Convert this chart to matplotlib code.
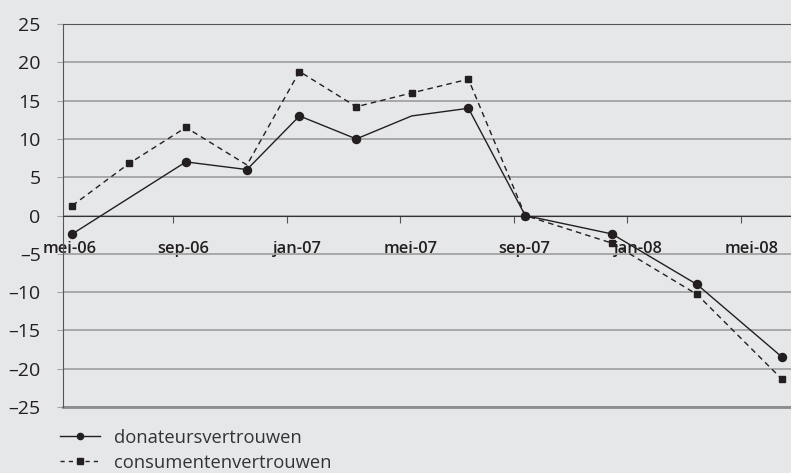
import matplotlib
matplotlib.use("Agg")
import matplotlib.pyplot as plt
from matplotlib.lines import Line2D

# months since 1 May 2006 (mid-month measurement points)
months = [0.45, 2.45, 4.45, 6.6, 8.45, 10.45, 12.4, 14.4, 16.4, 19.45, 22.45, 25.45]
donateurs = [-2.4, None, 7.0, 6.0, 13.0, 10.0, 13.0, 14.0, 0.0, -2.4, -9.0, -18.5]
consumenten = [1.3, 6.8, 11.5, 6.6, 18.8, 14.2, 16.0, 17.8, 0.0, -3.6, -10.3, -21.4]
tick_labels = ["mei-06", "sep-06", "jan-07", "mei-07", "sep-07", "jan-08", "mei-08"]
tick_months = [0, 4, 8, 12, 16, 20, 24]
y_ticks = [-25, -20, -15, -10, -5, 0, 5, 10, 15, 20, 25]

BG = "#e6e7e9"
INK = "#231f20"
plt.rcParams['font.family'] = ['Open Sans', 'DejaVu Sans']

fig = plt.figure(figsize=(7.91, 4.73), dpi=100, facecolor=BG)
ax = fig.add_axes([0.0796, 0.1395, 0.9204, 0.8097], facecolor=BG)

# donateurs: the series has no July point, skip it
d_x = [m for m, v in zip(months, donateurs) if v is not None]
d_y = [v for v in donateurs if v is not None]
ax.plot(d_x, d_y, color=INK, lw=1.0, marker="o", ms=5.8,
        markevery=[0, 1, 2, 3, 4, 6, 7, 8, 9, 10], zorder=4)
ax.plot(months, consumenten, color=INK, lw=1.0, ls=(0, (4, 3)), marker="s", ms=4.8,
        markevery=[0, 1, 2, 4, 5, 6, 7, 8, 9, 10, 11], zorder=3)

ax.set_xlim(0.12, 25.76)
ax.set_ylim(-25, 25)
ax.set_yticks(y_ticks)
ax.set_yticklabels([str(v).replace("-", "\u2013") for v in y_ticks])
ax.yaxis.grid(True, color="#a3a3a3", lw=1.3)
ax.set_axisbelow(True)
ax.tick_params(axis="y", length=4, color="#a3a3a3", labelsize=14, labelcolor=INK, pad=12)

# x-axis sits at zero
ax.spines["bottom"].set_position(("data", 0))
ax.spines["bottom"].set_color("#333333")
ax.spines["right"].set_visible(False)
ax.spines["top"].set_color("#555555")
ax.spines["left"].set_color("#555555")
ax.axhline(-25, color="#8c8c8c", lw=2.0, clip_on=False, zorder=2)

ax.set_xticks(tick_months[1:])
ax.set_xticklabels([])
ax.tick_params(axis="x", which="major", length=5, color="#555555", direction="out")
ax.set_xticks([m + 0.37 for m in tick_months], minor=True)
ax.set_xticklabels(tick_labels, minor=True, fontsize=11.8, fontweight="semibold", color=INK)
ax.tick_params(axis="x", which="minor", length=0, pad=18)

handles = [Line2D([], [], color=INK, lw=1.0, marker="o", ms=4.5),
           Line2D([], [], color=INK, lw=1.0, ls=(0, (3, 3)), marker="s", ms=5)]
fig.legend(handles, ["donateursvertrouwen", "consumentenvertrouwen"],
           loc="upper left", bbox_to_anchor=(0.076, 0.094), frameon=False,
           fontsize=13.2, handlelength=2.2, handletextpad=0.75, labelspacing=0.38,
           labelcolor="#333333", borderaxespad=0, borderpad=0)

fig.savefig("out.png", dpi=100, facecolor=BG)
